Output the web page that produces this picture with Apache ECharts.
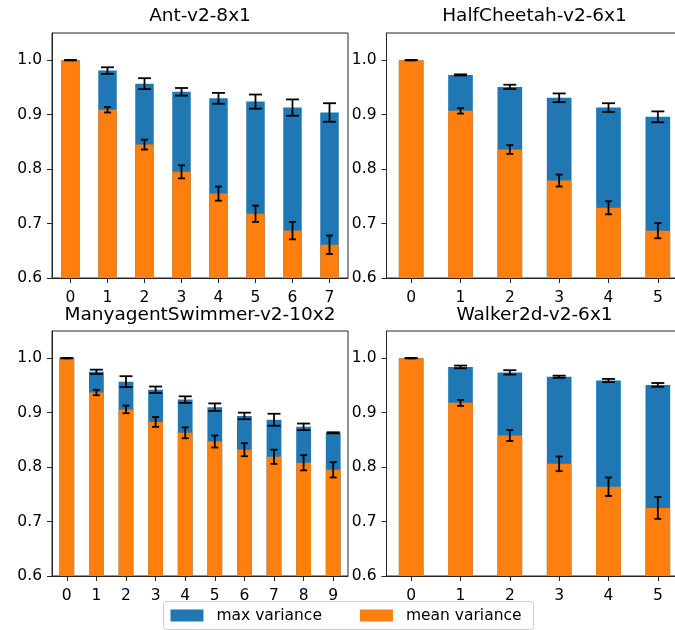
<!DOCTYPE html>
<html>
<head>
<meta charset="utf-8">
<script src="https://cdn.jsdelivr.net/npm/echarts@6/dist/echarts.min.js"></script>
<style>
html,body{margin:0;padding:0;background:#fff;}
#main{width:675px;height:630px;}
</style>
</head>
<body>
<div id="main"></div>
<script>
// ---- data ----
var titles = ['Ant-v2-8x1', 'HalfCheetah-v2-6x1', 'ManyagentSwimmer-v2-10x2', 'Walker2d-v2-6x1'];
var yTicks = [0.6, 0.7, 0.8, 0.9, 1.0];

var antCats = ['0','1','2','3','4','5','6','7'];
var antMax = [1.0, 0.981, 0.957, 0.942, 0.930, 0.924, 0.913, 0.904];
var antMaxErr = [0.0, 0.006, 0.010, 0.007, 0.010, 0.013, 0.015, 0.017];
var antMean = [1.0, 0.909, 0.845, 0.795, 0.755, 0.718, 0.687, 0.661];
var antMeanErr = [0.0, 0.005, 0.009, 0.012, 0.013, 0.015, 0.016, 0.017];

var hcCats = ['0','1','2','3','4','5'];
var hcMax = [1.0, 0.973, 0.951, 0.931, 0.913, 0.896];
var hcMaxErr = [0.0, 0.001, 0.004, 0.008, 0.008, 0.010];
var hcMean = [1.0, 0.907, 0.836, 0.779, 0.729, 0.687];
var hcMeanErr = [0.0, 0.005, 0.008, 0.011, 0.012, 0.014];

var swCats = ['0','1','2','3','4','5','6','7','8','9'];
var swMax = [1.0, 0.975, 0.957, 0.942, 0.924, 0.910, 0.894, 0.887, 0.874, 0.863];
var swMaxErr = [0.0, 0.004, 0.010, 0.006, 0.006, 0.007, 0.006, 0.011, 0.006, 0.001];
var swMean = [1.0, 0.937, 0.906, 0.883, 0.863, 0.847, 0.832, 0.819, 0.808, 0.795];
var swMeanErr = [0.0, 0.005, 0.007, 0.009, 0.010, 0.011, 0.012, 0.013, 0.014, 0.014];

var wkCats = ['0','1','2','3','4','5'];
var wkMax = [1.0, 0.984, 0.974, 0.966, 0.959, 0.951];
var wkMaxErr = [0.0, 0.0025, 0.004, 0.002, 0.003, 0.0035];
var wkMean = [1.0, 0.918, 0.858, 0.806, 0.764, 0.725];
var wkMeanErr = [0.0, 0.0055, 0.010, 0.0135, 0.017, 0.020];

var panels = [
  {cats: antCats, max: antMax, maxErr: antMaxErr, mean: antMean, meanErr: antMeanErr},
  {cats: hcCats, max: hcMax, maxErr: hcMaxErr, mean: hcMean, meanErr: hcMeanErr},
  {cats: swCats, max: swMax, maxErr: swMaxErr, mean: swMean, meanErr: swMeanErr},
  {cats: wkCats, max: wkMax, maxErr: wkMaxErr, mean: wkMean, meanErr: wkMeanErr}
];

// ---- layout ----
var FONT = 'DejaVu Sans';
var BLUE = '#1f77b4', ORANGE = '#ff7f0e', AXC = '#262626';
var gridPos = [
  {left: 52, top: 33, width: 296, height: 245},
  {left: 386.5, top: 33, width: 296, height: 245},
  {left: 52, top: 331, width: 296, height: 245},
  {left: 386.5, top: 331, width: 296, height: 245}
];
var titleY = [16, 16, 315, 315];

function errRender(half) {
  return function (params, api) {
    var x = api.value(0), v = api.value(1), e = api.value(2);
    var t = api.coord([x, v + e]);
    var b = api.coord([x, v - e]);
    var cx = t[0];
    var st = {stroke: '#000', lineWidth: 1.8};
    return {type: 'group', children: [
      {type: 'line', shape: {x1: cx, y1: t[1], x2: cx, y2: b[1]}, style: st},
      {type: 'line', shape: {x1: cx - half, y1: t[1], x2: cx + half, y2: t[1]}, style: st},
      {type: 'line', shape: {x1: cx - half, y1: b[1], x2: cx + half, y2: b[1]}, style: st}
    ]};
  };
}

var grids = [], xAxes = [], yAxes = [], series = [], graphics = [];
panels.forEach(function (p, i) {
  grids.push(Object.assign({show: true, borderColor: AXC, borderWidth: 1, backgroundColor: 'transparent',
    containLabel: false, outerBoundsMode: 'none'}, gridPos[i]));
  xAxes.push({
    type: 'category', gridIndex: i, data: p.cats, boundaryGap: true,
    axisLine: {show: true, lineStyle: {color: AXC, width: 1}},
    axisTick: {show: true, alignWithLabel: true, length: 5, lineStyle: {color: AXC}},
    axisLabel: {color: '#000', fontFamily: FONT, fontSize: 15.5, margin: 12, interval: 0},
    splitLine: {show: false}
  });
  yAxes.push({
    type: 'value', gridIndex: i, min: 0.6, max: 1.05,
    axisLine: {show: true, lineStyle: {color: AXC, width: 1}},
    axisTick: {show: true, length: 5, lineStyle: {color: AXC}, customValues: yTicks},
    axisLabel: {color: '#000', fontFamily: FONT, fontSize: 15.5, margin: 10, customValues: yTicks,
      formatter: function (v) { return Number(v).toFixed(1); }},
    splitLine: {show: false}
  });
  series.push({
    type: 'bar', name: 'max variance', xAxisIndex: i, yAxisIndex: i,
    data: p.max, barWidth: '50%', barGap: '-100%', itemStyle: {color: BLUE}, z: 2
  });
  series.push({
    type: 'bar', name: 'mean variance', xAxisIndex: i, yAxisIndex: i,
    data: p.mean, barWidth: '50%', barGap: '-100%', itemStyle: {color: ORANGE}, z: 3
  });
  series.push({
    type: 'custom', xAxisIndex: i, yAxisIndex: i, z: 5,
    renderItem: errRender(6.5),
    encode: {x: 0, y: 1},
    data: p.max.map(function (v, k) { return [k, v, p.maxErr[k]]; })
  });
  series.push({
    type: 'custom', xAxisIndex: i, yAxisIndex: i, z: 5,
    renderItem: errRender(3.5),
    encode: {x: 0, y: 1},
    data: p.mean.map(function (v, k) { return [k, v, p.meanErr[k]]; })
  });
  graphics.push({
    type: 'text', x: gridPos[i].left + gridPos[i].width / 2, y: titleY[i],
    style: {text: titles[i], fill: '#000', font: '18.5px "DejaVu Sans"', align: 'center', verticalAlign: 'middle'}
  });
});

var chart = echarts.init(document.getElementById('main'), null, {renderer: 'canvas'});
chart.setOption({
  animation: false,
  backgroundColor: '#fff',
  grid: grids,
  xAxis: xAxes,
  yAxis: yAxes,
  series: series,
  graphic: graphics,
  legend: {
    data: ['max variance', 'mean variance'],
    left: 163.5, top: 601.5,
    orient: 'horizontal',
    itemWidth: 33, itemHeight: 12, itemGap: 38,
    padding: [6, 12, 6, 7],
    borderColor: '#cccccc', borderWidth: 1, borderRadius: 3,
    icon: 'rect',
    textStyle: {color: '#000', fontFamily: FONT, fontSize: 15.5, padding: [0, 0, 0, 8]}
  }
});
</script>
</body>
</html>
